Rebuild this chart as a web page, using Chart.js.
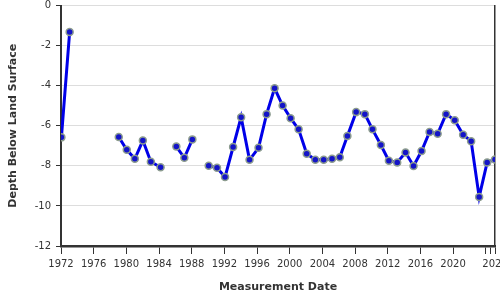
<!DOCTYPE html>
<html>
<head>
<meta charset="utf-8">
<script src="https://cdn.jsdelivr.net/npm/chart.js@4.4.1/dist/chart.umd.min.js"></script>
<style>
  html, body { margin: 0; padding: 0; background: #fff; overflow: hidden; }
  #wrap { width: 510px; height: 300px; }
</style>
</head>
<body>
<div id="wrap"><canvas id="chart"></canvas></div>
<script>
// measurement dates (decimal years) and depth below land surface (ft)
var measureDates = [1972.05, 1973.06, 1976, 1979.07, 1980.05, 1981.04, 1982.02, 1983.0, 1984.19, 1985,
    1986.12, 1987.1, 1988.08, 1989, 1990.08, 1991.1, 1992.08, 1993.07, 1994.05, 1995.08, 1996.18,
    1997.17, 1998.15, 1999.13, 2000.11, 2001.09, 2002.08, 2003.13, 2004.16, 2005.18, 2006.13,
    2007.06, 2008.13, 2009.2, 2010.13, 2011.16, 2012.14, 2013.16, 2014.18, 2015.16, 2016.14,
    2017.12, 2018.11, 2019.14, 2020.2, 2021.23, 2022.21, 2023.19, 2024.17, 2025.13];
var depths = [-6.58, -1.32, null, -6.56, -7.2, -7.65, -6.74, -7.8, -8.07, null,
    -7.04, -7.6, -6.68, null, -8.0, -8.1, -8.56, -7.06, -5.57, -7.7, -7.1,
    -5.42, -4.13, -4.99, -5.62, -6.18, -7.4, -7.7, -7.7, -7.65, -7.57,
    -6.51, -5.32, -5.42, -6.18, -6.96, -7.75, -7.83, -7.34, -8.01, -7.26,
    -6.31, -6.4, -5.42, -5.73, -6.45, -6.77, -9.55, -7.83, -7.68];
var xTicks = [1972, 1976, 1980, 1984, 1988, 1992, 1996, 2000, 2004, 2008, 2012, 2016, 2020, 2024, 2024.6, 2025.13];
var xTickLabels = ['1972', '1976', '1980', '1984', '1988', '1992', '1996', '2000', '2004', '2008', '2012', '2016', '2020', '', '', '2025'];
var yTicks = [0, -2, -4, -6, -8, -10, -12];

var points = measureDates.map(function(d, i){ return {x: d, y: depths[i]}; });
var dark = '#333333';
var font = {family: 'DejaVu Sans', size: 10};

new Chart(document.getElementById('chart'), {
    type: 'line',
    data: {
        datasets: [{
            data: points,
            borderColor: '#0000e8',
            borderWidth: 3,
            pointRadius: 3.5,
            pointBorderWidth: 1.5,
            pointBackgroundColor: '#1414c8',
            pointBorderColor: '#8c9c8e',
            spanGaps: false,
            tension: 0
        }]
    },
    options: {
        responsive: true,
        maintainAspectRatio: false,
        animation: false,
        layout: { padding: { top: 4, left: 0, right: 0, bottom: 0 } },
        plugins: { legend: { display: false }, tooltip: { enabled: false } },
        scales: {
            x: {
                type: 'linear',
                min: 1972,
                max: 2025.13,
                afterBuildTicks: function(s){ s.ticks = xTicks.map(function(v){ return {value: v}; }); },
                afterFit: function(s){ s.height = 54; s.paddingRight = 0; },
                ticks: {
                    autoSkip: false, maxRotation: 0, color: dark, font: font, padding: 4,
                    callback: function(v, i){ return xTickLabels[i]; }
                },
                grid: { drawOnChartArea: false, tickColor: dark, tickLength: 8, tickWidth: 1 },
                border: { color: dark, width: 2.5 },
                title: { display: true, text: 'Measurement Date', color: dark,
                    font: {family: 'DejaVu Sans', size: 11, weight: 'bold'}, padding: {top: 6, bottom: 6} }
            },
            y: {
                min: -12,
                max: 0,
                afterBuildTicks: function(s){ s.ticks = yTicks.map(function(v){ return {value: v}; }); },
                afterFit: function(s){ s.width = 61; s.paddingTop = 0; s.paddingBottom = 0; },
                ticks: { color: dark, font: font, padding: 5 },
                grid: { color: '#dddddd', tickColor: dark, tickLength: 5, lineWidth: 1 },
                border: { color: dark, width: 2 },
                title: { display: true, text: 'Depth Below Land Surface', color: dark,
                    font: {family: 'DejaVu Sans', size: 11, weight: 'bold'}, padding: {top: 7, bottom: 0} }
            },
            y2: {
                position: 'right',
                min: -12,
                max: 0,
                afterFit: function(s){ s.width = 15; s.paddingTop = 0; s.paddingBottom = 0; },
                ticks: { display: false },
                grid: { display: false, drawTicks: false },
                border: { display: true, color: dark, width: 1.5 }
            }
        }
    }
});
</script>
</body>
</html>
